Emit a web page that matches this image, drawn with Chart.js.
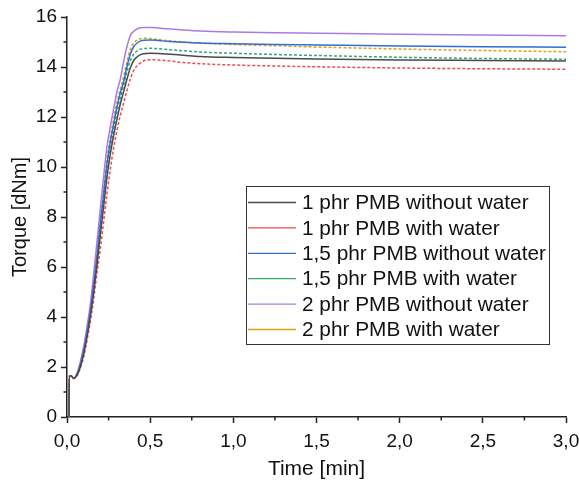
<!DOCTYPE html>
<html><head><meta charset="utf-8">
<script src="https://cdn.jsdelivr.net/npm/chart.js@4.4.1/dist/chart.umd.min.js"></script>
<style>html,body{margin:0;padding:0;background:#fff;} canvas{display:block;}</style>
</head><body>
<canvas id="c" width="579" height="485"></canvas>
<script>
const time = [0.012, 0.014, 0.025, 0.04, 0.06, 0.08, 0.1, 0.12, 0.14, 0.16, 0.18, 0.2, 0.22, 0.24, 0.26, 0.28, 0.3, 0.32, 0.34, 0.36, 0.38, 0.4, 0.43, 0.46, 0.5, 0.55, 0.6, 0.7, 0.8, 1.0, 1.25, 1.5, 2.0, 2.5, 3.0];
const pmb1Dry = [0, 1.64, 1.64, 1.55, 1.67, 2.0, 2.5, 3.2, 4.0, 4.95, 6.05, 7.25, 8.4, 9.55, 10.5, 11.25, 11.9, 12.5, 13.0, 13.5, 13.95, 14.25, 14.45, 14.53, 14.55, 14.54, 14.52, 14.47, 14.42, 14.38, 14.35, 14.32, 14.28, 14.26, 14.24];
const pmb1Wet = [0, 1.63, 1.63, 1.53, 1.65, 1.95, 2.4, 3.05, 3.8, 4.7, 5.75, 6.7, 7.8, 8.9, 9.9, 10.75, 11.45, 12.05, 12.55, 13.05, 13.5, 13.85, 14.1, 14.24, 14.29, 14.28, 14.25, 14.18, 14.13, 14.08, 14.04, 14.01, 13.96, 13.93, 13.91];
const pmb15Dry = [0, 1.64, 1.64, 1.55, 1.70, 2.08, 2.65, 3.35, 4.2, 5.25, 6.4, 7.7, 8.9, 10.1, 11.0, 11.7, 12.4, 12.95, 13.4, 14.0, 14.5, 14.8, 15.0, 15.07, 15.08, 15.06, 15.03, 14.99, 14.96, 14.93, 14.9, 14.88, 14.84, 14.81, 14.79];
const pmb15Wet = [0, 1.64, 1.64, 1.55, 1.69, 2.05, 2.6, 3.3, 4.1, 5.1, 6.25, 7.5, 8.7, 9.9, 10.8, 11.5, 12.2, 12.75, 13.25, 13.8, 14.25, 14.5, 14.68, 14.74, 14.75, 14.73, 14.70, 14.65, 14.60, 14.55, 14.5, 14.46, 14.39, 14.34, 14.31];
const pmb2Dry = [0, 1.64, 1.64, 1.55, 1.75, 2.2, 2.8, 3.6, 4.5, 5.7, 7.0, 8.3, 9.6, 10.8, 11.6, 12.3, 13.0, 13.5, 14.2, 14.8, 15.25, 15.42, 15.55, 15.58, 15.58, 15.56, 15.53, 15.48, 15.44, 15.40, 15.37, 15.35, 15.31, 15.28, 15.25];
const pmb2Wet = [0, 1.64, 1.64, 1.55, 1.72, 2.12, 2.7, 3.45, 4.3, 5.4, 6.6, 7.9, 9.1, 10.3, 11.2, 11.9, 12.6, 13.1, 13.6, 14.2, 14.7, 14.95, 15.1, 15.15, 15.14, 15.1, 15.06, 15.0, 14.96, 14.90, 14.85, 14.80, 14.72, 14.66, 14.61];
const seriesLabels = ['1 phr PMB without water', '1 phr PMB with water', '1,5 phr PMB without water', '1,5 phr PMB with water', '2 phr PMB without water', '2 phr PMB with water'];
const xTickLabels = ['0,0', '0,5', '1,0', '1,5', '2,0', '2,5', '3,0'];
const yTickLabels = ['0', '2', '4', '6', '8', '10', '12', '14', '16'];

const seriesValues = [pmb1Dry, pmb1Wet, pmb15Dry, pmb15Wet, pmb2Dry, pmb2Wet];
const colors = ['#4a4a4a', '#f24a4a', '#2c6fd6', '#35a96b', '#a97ae6', '#dca21a'];
const dashes = [[], [3, 2], [], [3, 2], [], [3, 2]];

const datasets = seriesValues.map((vals, i) => ({
  label: seriesLabels[i],
  data: vals.map((v, k) => ({ x: time[k], y: v })),
  borderColor: colors[i],
  backgroundColor: colors[i],
  borderWidth: 1.5,
  borderDash: dashes[i],
  pointRadius: 0,
  fill: false,
  cubicInterpolationMode: 'monotone'
}));

const FONT = "'Liberation Sans', Arial, sans-serif";

const decor = {
  id: 'decor',
  afterDraw(chart) {
    const ctx = chart.ctx, xs = chart.scales.x, ys = chart.scales.y;
    ctx.save();
    ctx.strokeStyle = '#222';
    ctx.lineWidth = 1.5;
    ctx.beginPath();
    for (let i = 0; i < xTickLabels.length - 1; i++) {
      const px = (xs.getPixelForTick(i) + xs.getPixelForTick(i + 1)) / 2;
      ctx.moveTo(px, ys.bottom); ctx.lineTo(px, ys.bottom + 3.5);
    }
    for (let i = 0; i < yTickLabels.length - 1; i++) {
      const py = (ys.getPixelForTick(i) + ys.getPixelForTick(i + 1)) / 2;
      ctx.moveTo(xs.left, py); ctx.lineTo(xs.left - 3.5, py);
    }
    ctx.stroke();
    // legend
    const bx = 246.5, by = 186.5, bw = 303, bh = 158;
    ctx.fillStyle = '#fff';
    ctx.fillRect(bx, by, bw, bh);
    ctx.strokeStyle = '#333';
    ctx.lineWidth = 1;
    ctx.strokeRect(bx, by, bw, bh);
    ctx.font = '20.8px ' + FONT;
    ctx.textBaseline = 'middle';
    ctx.textAlign = 'left';
    chart.data.datasets.forEach((ds, i) => {
      const cy = 202.5 + i * 25.4;
      ctx.strokeStyle = ds.borderColor;
      ctx.lineWidth = 1.3;
      ctx.setLineDash([]);
      ctx.beginPath();
      ctx.moveTo(248, cy); ctx.lineTo(296, cy);
      ctx.stroke();
      ctx.fillStyle = '#111';
      ctx.fillText(ds.label, 302, cy + 1);
    });
    ctx.restore();
  }
};

new Chart(document.getElementById('c'), {
  type: 'line',
  data: { datasets },
  options: {
    responsive: false,
    animation: false,
    devicePixelRatio: 1,
    layout: { padding: { left: 0, right: 13, top: 17, bottom: 0 } },
    plugins: { legend: { display: false }, tooltip: { enabled: false } },
    scales: {
      x: {
        type: 'linear', min: 0, max: 3,
        ticks: { stepSize: 0.5, color: '#111', font: { family: FONT, size: 19 }, padding: 7, maxRotation: 0,
          callback: (v, i) => xTickLabels[i] },
        grid: { display: true, drawOnChartArea: false, drawTicks: true, tickLength: 6, color: '#222', tickWidth: 1.5 },
        border: { display: true, color: '#222', width: 1.5 },
        title: { display: true, text: 'Time [min]', color: '#111', font: { family: FONT, size: 21 }, padding: { top: 0, bottom: 3 } },
        afterFit: (s) => { s.height = 68; s.paddingLeft = 0; s.paddingRight = 0; }
      },
      y: {
        type: 'linear', min: 0, max: 16,
        ticks: { stepSize: 2, color: '#111', font: { family: FONT, size: 19 }, padding: 4,
          callback: (v, i) => yTickLabels[i] },
        grid: { display: true, drawOnChartArea: false, drawTicks: true, tickLength: 6, color: '#222', tickWidth: 1.5 },
        border: { display: true, color: '#222', width: 1.5 },
        title: { display: true, text: 'Torque [dNm]', color: '#111', font: { family: FONT, size: 20 }, padding: { top: 8, bottom: 0 } },
        afterFit: (s) => { s.width = 67; s.paddingTop = 0; s.paddingBottom = 0; }
      }
    }
  },
  plugins: [decor]
});
</script>
</body></html>
